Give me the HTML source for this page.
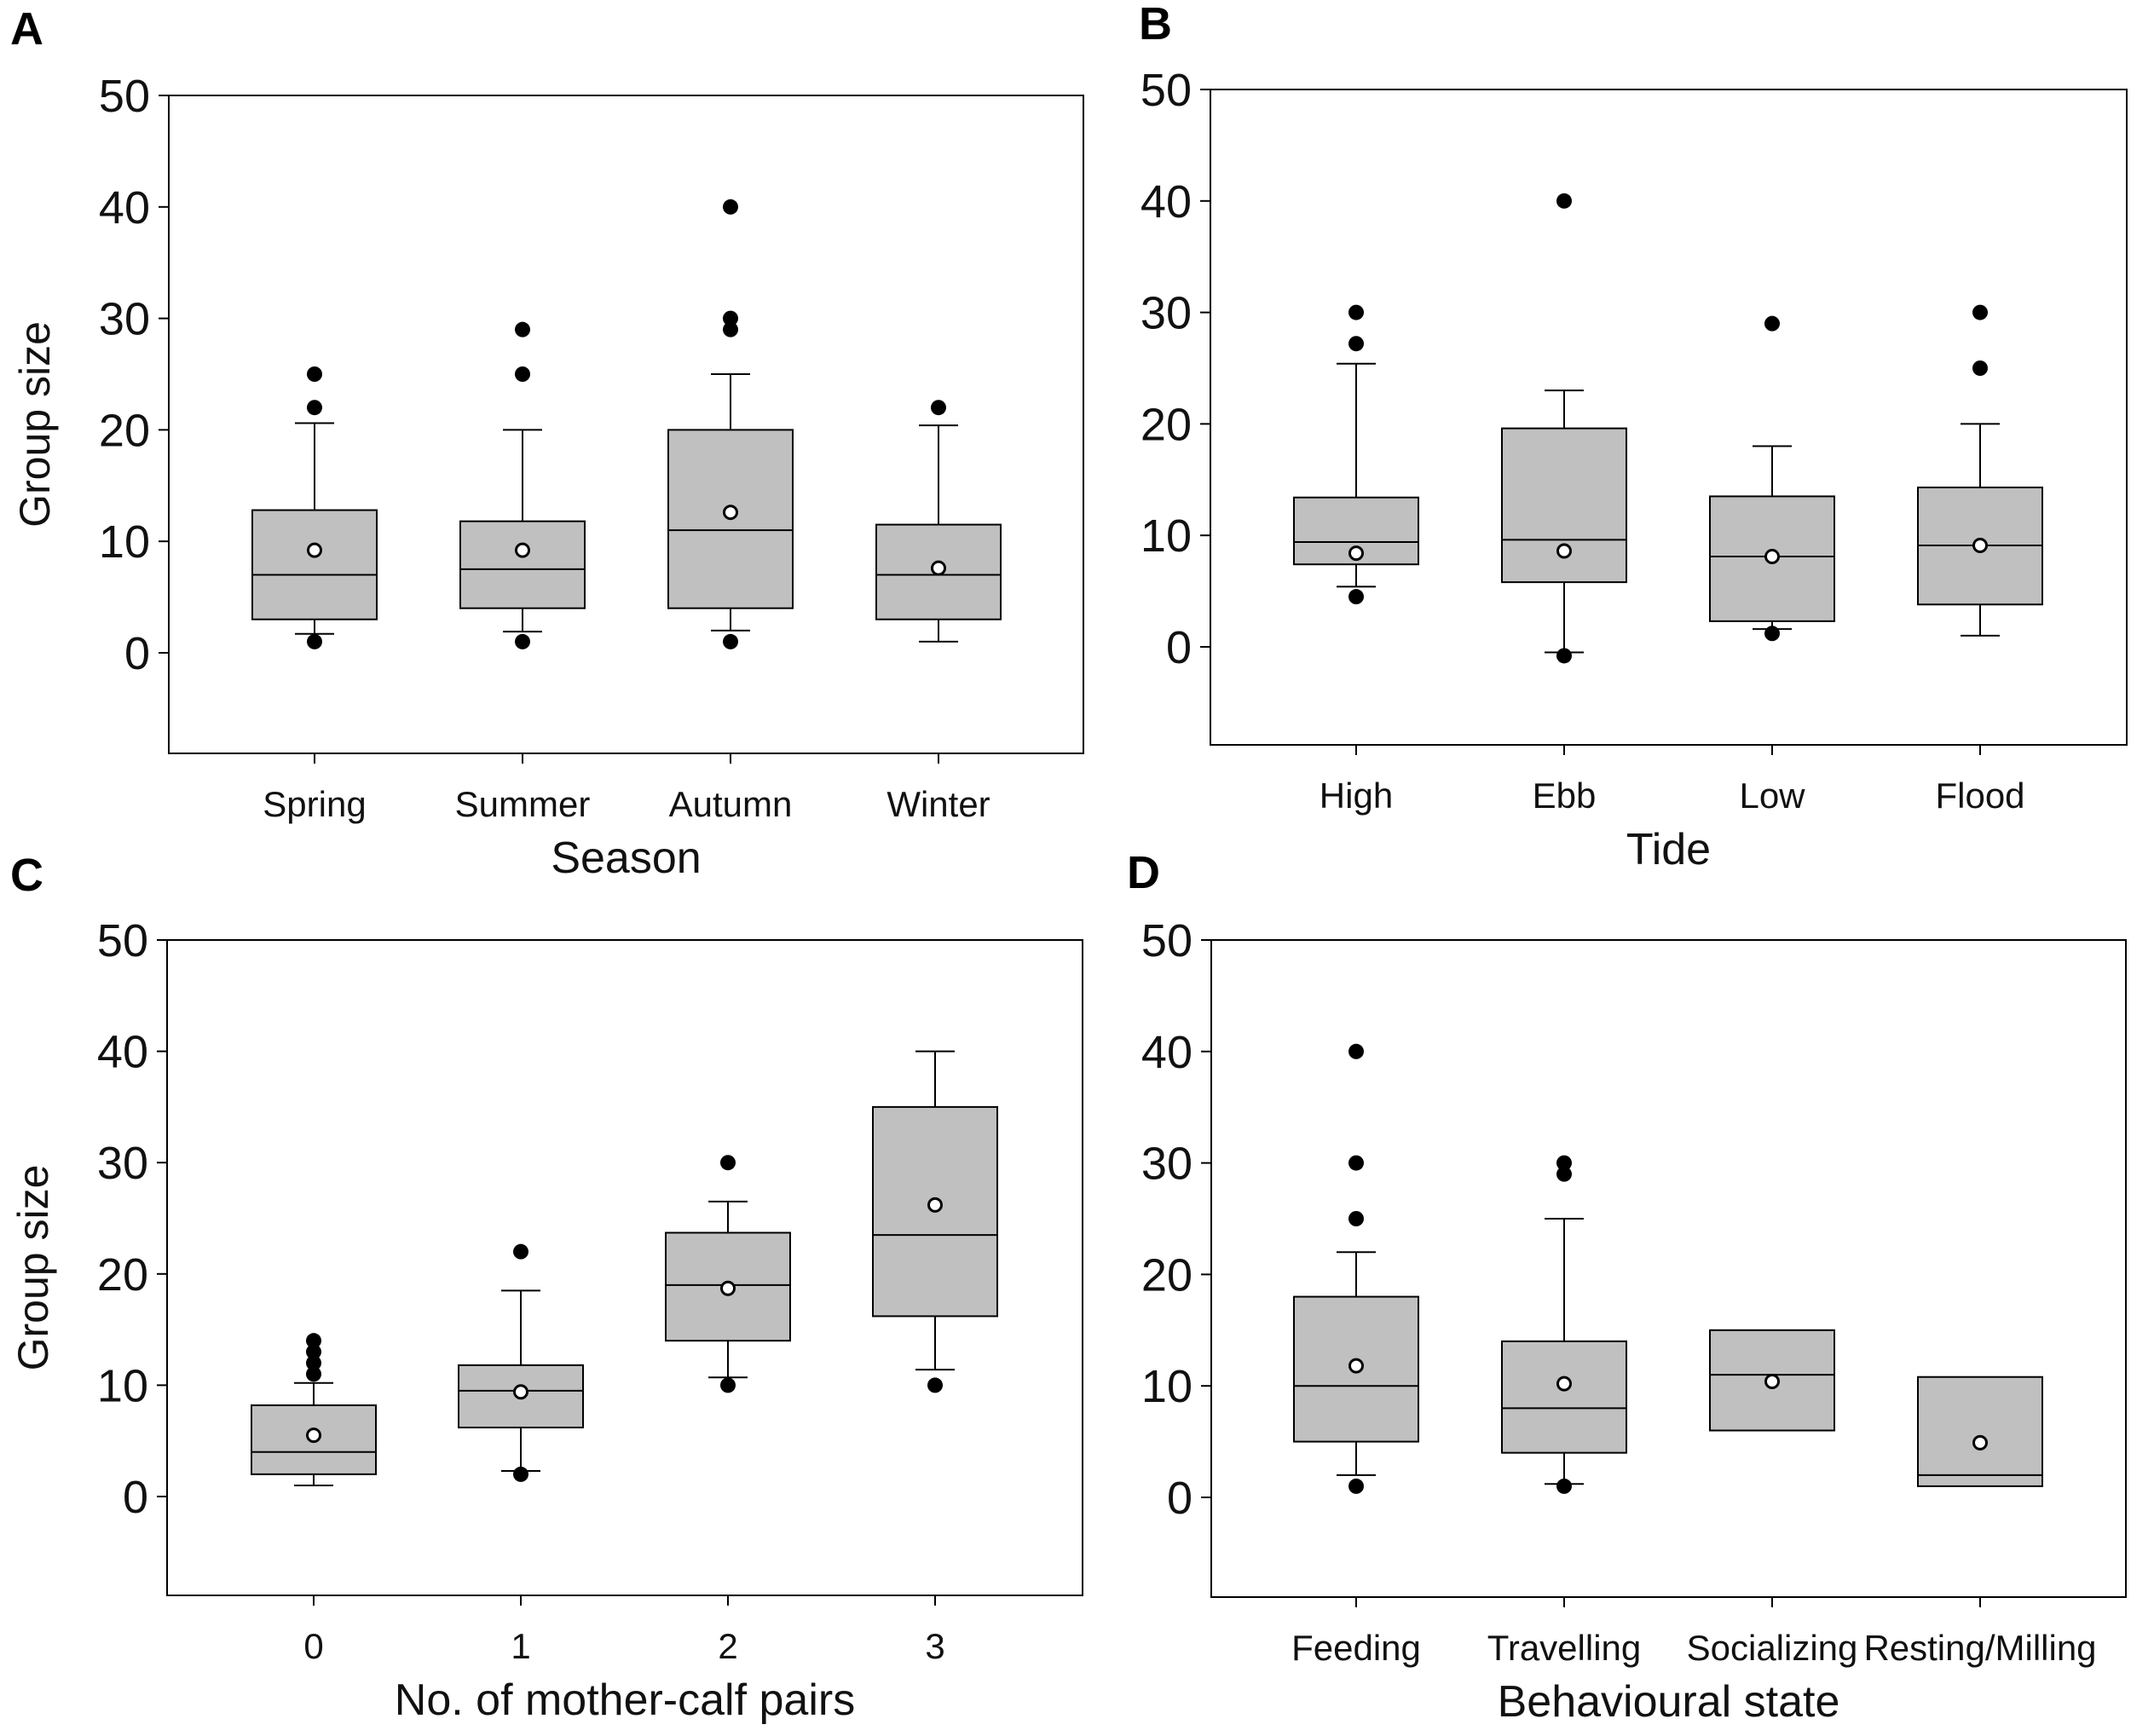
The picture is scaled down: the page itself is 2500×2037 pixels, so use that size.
<!DOCTYPE html>
<html><head><meta charset="utf-8"><style>
html,body{margin:0;padding:0;background:#fff}
svg{display:block;font-family:"Liberation Sans",Arial,sans-serif}
</style></head><body>
<svg id="fig" width="2500" height="2037" viewBox="0 0 2500 2037" xmlns="http://www.w3.org/2000/svg"></svg>
<script>
// Panel A - Season
const catsA=["Spring","Summer","Autumn","Winter"];
const q1A=[3,4,4,3], medA=[7,7.5,11,7], q3A=[12.8,11.8,20,11.5], loA=[1.7,1.9,2,1], hiA=[20.6,20,25,20.4], meanA=[9.2,9.2,12.6,7.6];
const outA=[[25,22,1],[29,25,1],[40,30,29,1],[22]];
// Panel B - Tide
const catsB=["High","Ebb","Low","Flood"];
const q1B=[7.4,5.8,2.3,3.8], medB=[9.4,9.6,8.1,9.1], q3B=[13.4,19.6,13.5,14.3], loB=[5.4,-0.5,1.6,1], hiB=[25.4,23,18,20], meanB=[8.4,8.6,8.1,9.1];
const outB=[[30,27.2,4.5],[40,-0.8],[29,1.2],[30,25]];
// Panel C - mother-calf pairs
const catsC=["0","1","2","3"];
const q1C=[2,6.2,14,16.2], medC=[4,9.5,19,23.5], q3C=[8.2,11.8,23.7,35], loC=[1,2.3,10.7,11.4], hiC=[10.2,18.5,26.5,40], meanC=[5.5,9.4,18.7,26.2];
const outC=[[14,13,12,11],[22,2],[30,10],[10]];
// Panel D - Behavioural state
const catsD=["Feeding","Travelling","Socializing","Resting/Milling"];
const q1D=[5,4,6,1], medD=[10,8,11,2], q3D=[18,14,15,10.8], loD=[2,1.2,null,null], hiD=[22,25,null,null], meanD=[11.8,10.2,10.4,4.9];
const outD=[[40,30,25,1],[30,29,1],[],[]];
const yTicks=[0,10,20,30,40,50];

const NS="http://www.w3.org/2000/svg";
const svg=document.getElementById('fig');
function mk(tag,attrs,parent,name,text){
  const e=document.createElementNS(NS,tag);
  for(const k in attrs)e.setAttribute(k,attrs[k]);
  
  
  if(text!==undefined)e.textContent=text;
  (parent||svg).appendChild(e);return e;
}
function panel(p){
  const g=mk('g',{},svg,'panel-'+p.letter.toLowerCase());
  const y=v=>p.y0-(v)*(p.y0-p.y50)/50;
  const x=i=>p.c0+i*p.step;
  mk('text',{x:p.lx,y:p.ly,'font-size':54,'font-weight':'bold',fill:'#000'},g,'panel-label',p.letter);
  mk('rect',{x:p.left,y:p.y50,width:p.right-p.left,height:p.bottom-p.y50,fill:'none',stroke:'#000','stroke-width':2},g,'plot-frame');
  yTicks.forEach(t=>{
    mk('line',{x1:p.left-12,x2:p.left,y1:y(t),y2:y(t),stroke:'#000','stroke-width':2},g,'y-tick');
    mk('text',{x:p.left-22,y:y(t)+19,'font-size':54,'text-anchor':'end',fill:'#111'},g,'y-tick-label',t);
  });
  if(p.ytitle) mk('text',{x:0,y:0,'font-size':50,'text-anchor':'middle',fill:'#111',transform:`translate(${p.left-140},${(p.y50+p.bottom)/2}) rotate(-90)`},g,'y-axis-title',p.ytitle);
  const bw=73,cw=23;
  p.cats.forEach((c,i)=>{
    const cx=x(i);
    mk('line',{x1:cx,x2:cx,y1:p.bottom,y2:p.bottom+12,stroke:'#000','stroke-width':2},g,'x-tick');
    mk('text',{x:cx,y:p.bottom+74,'font-size':42,'text-anchor':'middle',fill:'#111'},g,'x-tick-label',c);
    if(p.hi[i]!=null){
      mk('line',{x1:cx,x2:cx,y1:y(p.hi[i]),y2:y(p.q3[i]),stroke:'#000','stroke-width':2},g,'whisker-upper');
      mk('line',{x1:cx-cw,x2:cx+cw,y1:y(p.hi[i]),y2:y(p.hi[i]),stroke:'#000','stroke-width':2},g,'whisker-cap');
    }
    if(p.lo[i]!=null){
      mk('line',{x1:cx,x2:cx,y1:y(p.lo[i]),y2:y(p.q1[i]),stroke:'#000','stroke-width':2},g,'whisker-lower');
      mk('line',{x1:cx-cw,x2:cx+cw,y1:y(p.lo[i]),y2:y(p.lo[i]),stroke:'#000','stroke-width':2},g,'whisker-cap');
    }
    mk('rect',{x:cx-bw,y:y(p.q3[i]),width:2*bw,height:y(p.q1[i])-y(p.q3[i]),fill:'#c0c0c0',stroke:'#000','stroke-width':2},g,'box-'+c.toLowerCase().replace(/[^a-z0-9]/g,''));
    mk('line',{x1:cx-bw,x2:cx+bw,y1:y(p.med[i]),y2:y(p.med[i]),stroke:'#000','stroke-width':2},g,'median-line');
    p.out[i].forEach(v=>mk('circle',{cx:cx,cy:y(v),r:9,fill:'#000'},g,'outlier-point'));
    mk('circle',{cx:cx,cy:y(p.mean[i]),r:7.5,fill:'#fff',stroke:'#000','stroke-width':3},g,'mean-marker');
  });
  mk('text',{x:(p.left+p.right)/2,y:p.bottom+140,'font-size':52,'text-anchor':'middle',fill:'#111'},g,'x-axis-title',p.xtitle);
}
panel({letter:'A',lx:12,ly:52,left:198,right:1271,y50:112,y0:766,bottom:884,c0:369,step:244,cats:catsA,q1:q1A,med:medA,q3:q3A,lo:loA,hi:hiA,mean:meanA,out:outA,xtitle:'Season',ytitle:'Group size'});
panel({letter:'B',lx:1336,ly:46,left:1420,right:2495,y50:105,y0:759,bottom:874,c0:1591,step:244,cats:catsB,q1:q1B,med:medB,q3:q3B,lo:loB,hi:hiB,mean:meanB,out:outB,xtitle:'Tide'});
panel({letter:'C',lx:12,ly:1045,left:196,right:1270,y50:1103,y0:1756,bottom:1872,c0:368,step:243,cats:catsC,q1:q1C,med:medC,q3:q3C,lo:loC,hi:hiC,mean:meanC,out:outC,xtitle:'No. of mother-calf pairs',ytitle:'Group size'});
panel({letter:'D',lx:1322,ly:1042,left:1421,right:2494,y50:1103,y0:1757,bottom:1874,c0:1591,step:244,cats:catsD,q1:q1D,med:medD,q3:q3D,lo:loD,hi:hiD,mean:meanD,out:outD,xtitle:'Behavioural state'});
</script>
</body></html>
